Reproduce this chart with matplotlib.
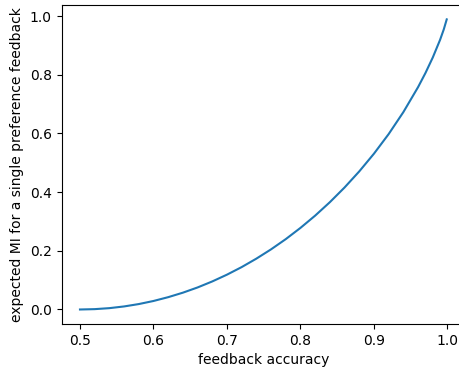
import numpy as np
import matplotlib.pyplot as plt

# values
accuracy = [0.5, 0.52, 0.54, 0.56, 0.58, 0.6, 0.62, 0.64, 0.66, 0.68, 0.7,
            0.72, 0.74, 0.76, 0.78, 0.8, 0.82, 0.84, 0.86, 0.88, 0.9,
            0.92, 0.94, 0.96, 0.97, 0.98, 0.99, 0.995, 0.999]
expected_mi = [0.0, 0.0012, 0.0046, 0.0104, 0.0185, 0.029, 0.0420, 0.0573, 0.0751, 0.0956, 0.1187,
               0.1445, 0.1733, 0.2050, 0.2398, 0.2781, 0.3199, 0.3657, 0.4158, 0.4706, 0.5310,
               0.5978, 0.6726, 0.7577, 0.8056, 0.8586, 0.9192, 0.9546, 0.9886]

fig, ax = plt.subplots(figsize=(4.6, 3.75), dpi=100)
ax.plot(accuracy, expected_mi)
ax.set_xlabel('feedback accuracy')
ax.set_ylabel('expected MI for a single preference feedback')
# the reference image is cropped at the right, cutting off the right spine
fig.subplots_adjust(left=0.134, right=1.011, top=0.987, bottom=0.136)
fig.savefig('out.png')
